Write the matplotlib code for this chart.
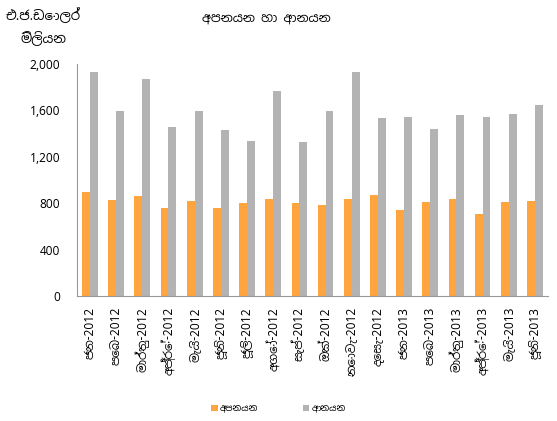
import numpy as np
import matplotlib
matplotlib.use("Agg")
import matplotlib.pyplot as plt
import matplotlib.ticker as ticker

plt.rcParams['font.family'] = ['Noto Sans Sinhala', 'DejaVu Sans']

# මාස (2012 ජනවාරි - 2013 ජූනි)
months = ["ජන-2012", "පෙබ-2012", "මාර්තු-2012", "අප්‍රේ-2012", "මැයි-2012", "ජූනි-2012",
          "ජූලි-2012", "අගෝ-2012", "සැප්-2012", "ඔක්-2012", "නොවැ-2012", "දෙසැ-2012",
          "ජන-2013", "පෙබ-2013", "මාර්තු-2013", "අප්‍රේ-2013", "මැයි-2013", "ජූනි-2013"]

# අපනයන (එ.ජ.ඩොලර් මිලියන)
exports = [895, 827, 865, 758, 819, 758, 802, 836, 802, 784, 836, 871,
           739, 808, 839, 704, 808, 819]
# ආනයන
imports = [1935, 1592, 1868, 1454, 1592, 1431, 1339, 1764, 1327, 1592, 1935, 1534,
           1546, 1442, 1557, 1546, 1569, 1649]

orange = "#FFA43F"
grey = "#B3B3B3"

fig = plt.figure(figsize=(5.57, 4.21), dpi=100)
ax = fig.add_axes([0.138, 0.297, 0.846, 0.551])

x = np.arange(len(months))
w = 0.3
ax.bar(x - w / 2, exports, w, color=orange, label="අපනයන")
ax.bar(x + w / 2, imports, w, color=grey, label="ආනයන")

ax.set_xlim(-0.5, len(months) - 0.5)
ax.set_ylim(0, 2000)
ax.yaxis.set_major_locator(ticker.MultipleLocator(400))
ax.yaxis.set_major_formatter(ticker.FuncFormatter(lambda v, p: "{:,.0f}".format(v)))
ax.set_xticks(x)
ax.set_xticklabels(months, rotation=90, fontsize=8.5)
ax.tick_params(axis="y", labelsize=8.5, length=0, pad=12)
ax.tick_params(axis="x", length=0, pad=8)

for s in ["top", "right"]:
    ax.spines[s].set_visible(False)
ax.spines["left"].set_color("#999999")
ax.spines["bottom"].set_color("#999999")

fig.text(0.478, 0.955, "අපනයන හා ආනයන", ha="center", va="center", fontsize=9)
fig.text(0.078, 0.963, "එ.ජ.ඩොලර්", ha="center", va="center", fontsize=9.5)
fig.text(0.078, 0.908, "මිලියන", ha="center", va="center", fontsize=9.5)

fig.legend(loc="center", bbox_to_anchor=(0.5, 0.03), ncol=2, frameon=False,
           fontsize=6.5, handlelength=0.7, handleheight=0.7, handletextpad=0.2,
           columnspacing=5)

fig.savefig("out.png")
